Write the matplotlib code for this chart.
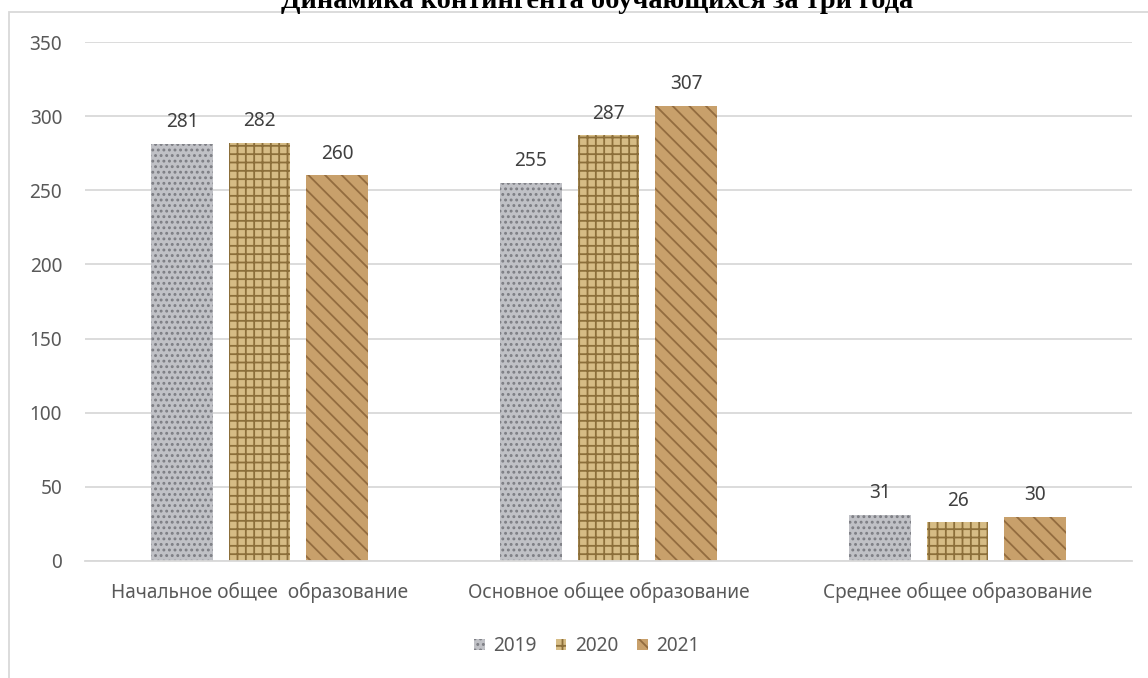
import matplotlib
matplotlib.use("Agg")
import matplotlib.pyplot as plt
from matplotlib.patches import Rectangle, Patch
import numpy as np

plt.rcParams['font.family'] = ['Noto Sans', 'DejaVu Sans']
plt.rcParams['hatch.linewidth'] = 1.3

# data
categories = ['Начальное общее  образование', 'Основное общее образование', 'Среднее общее образование']
years = ['2019', '2020', '2021']
v2019 = [281, 255, 31]
v2020 = [282, 287, 26]
v2021 = [260, 307, 30]
yticks = [0, 50, 100, 150, 200, 250, 300, 350]
title = 'Динамика контингента обучающихся за три года'

# texture-like styles (face, hatch colour, hatch)
styles = [
    ('#c0c1c6', '#7c7d83', '...'),
    ('#d6bc85', '#8c6f3a', '++'),
    ('#c8a06b', '#936c3f', '\\\\'),
]

fig = plt.figure(figsize=(11.48, 6.78), dpi=100)
ax = fig.add_axes([85 / 1148, 1 - 561 / 678, 1047 / 1148, 519 / 678])

# chart frame
fig.patches.append(Rectangle((8.5 / 1148, -0.05), 1.2, 1 - 12 / 678 + 0.05,
                             transform=fig.transFigure, fill=False,
                             edgecolor='#d9d9d9', linewidth=1.3, zorder=0))

x = np.arange(len(categories))
width = 0.175
step = 0.222
series = [v2019, v2020, v2021]
for i, (vals, (fc, hc, hatch)) in enumerate(zip(series, styles)):
    bars = ax.bar(x + (i - 1) * step, vals, width, facecolor=fc, edgecolor=hc,
                  hatch=hatch, linewidth=0, zorder=2, label=years[i])
    for b, v in zip(bars, vals):
        ax.text(b.get_x() + b.get_width() / 2, v + 8, str(v), ha='center', va='bottom',
                fontsize=13.7, color='#404040')

ax.set_xlim(-0.5, 2.5)
ax.set_ylim(0, 350)
ax.set_yticks(yticks)
ax.yaxis.grid(True, color='#d9d9d9', linewidth=1.3, zorder=0)
ax.set_axisbelow(True)
for s in ['top', 'right', 'left']:
    ax.spines[s].set_visible(False)
ax.spines['bottom'].set_color('#d9d9d9')
ax.spines['bottom'].set_linewidth(1.3)
ax.tick_params(axis='both', length=0, labelsize=13.7, colors='#595959')
ax.tick_params(axis='y', pad=16.5)
ax.tick_params(axis='x', pad=15)
ax.set_xticks(x)
ax.set_xticklabels(categories)

handles = [Patch(facecolor=fc, edgecolor=hc, hatch=hatch, linewidth=0) for fc, hc, hatch in styles]
fig.legend(handles, years, loc='center', bbox_to_anchor=(587 / 1148, 1 - 646 / 678), ncol=3,
           frameon=False, fontsize=13.7, labelcolor='#595959', handlelength=0.55, handleheight=0.55,
           handletextpad=0.45, columnspacing=1.0)

fig.text(597 / 1148, 1 - 8 / 678, title, ha='center', va='baseline', fontsize=20.4,
         fontweight='bold', family=['Liberation Serif', 'DejaVu Serif'], color='black')

fig.savefig('out.png', dpi=100)
